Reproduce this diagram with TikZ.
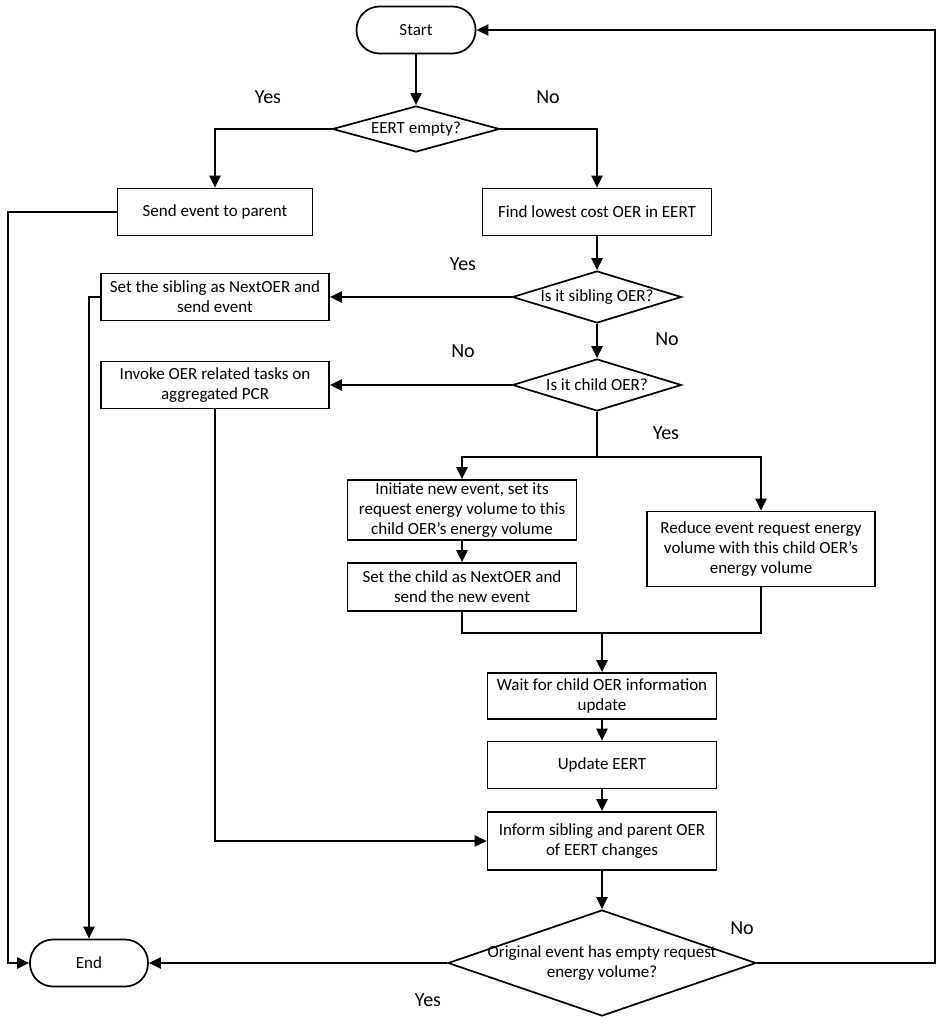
\documentclass[tikz,border=0pt]{standalone}
\usepackage{fontspec}
\setmainfont{Carlito}
\usetikzlibrary{shapes.geometric,arrows.meta}
\begin{document}
\begin{tikzpicture}[x=1pt,y=-1pt,
  font=\fontsize{17}{20}\selectfont,
  box/.style 2 args={draw, line width=1.7pt, align=center, inner sep=0pt, minimum width=#1, minimum height=#2},
  term/.style 2 args={draw, line width=1.7pt, rounded corners=23pt, inner sep=0pt, minimum width=#1, minimum height=#2},
  dia/.style 2 args={draw, diamond, line width=1.7pt, inner sep=0pt, minimum width=#1, minimum height=#2},
  lbl/.style={align=center, inner sep=0pt},
  con/.style={line width=2.1pt},
  arr/.style={line width=2.1pt, -{Triangle[length=12pt,width=11pt]}},
  ans/.style={font=\fontsize{20}{24}\selectfont, inner sep=0pt}
]
\useasboundingbox (0,0) rectangle (941,1024);

% nodes
\node[term={119}{47}] (start) at (416,30) {Start};
\node[dia={167}{46}] (d1) at (416,129) {};
\node[lbl] (d1t) at (d1.center) {EERT empty?};
\node[box={195}{47}] (send) at (215,212) {Send event to parent};
\node[box={229}{47}] (find) at (597,212) {Find lowest cost OER in EERT};
\node[dia={169}{52}] (d2) at (597,297) {};
\node[lbl] (d2t) at (d2.center) {Is it sibling OER?};
\node[box={228}{47}] (sib) at (215,297) {Set the sibling as NextOER and\\send event};
\node[dia={169}{52}] (d3) at (597,385) {};
\node[lbl] (d3t) at (d3.center) {Is it child OER?};
\node[box={228}{47}] (inv) at (215,385) {Invoke OER related tasks on\\aggregated PCR};
\node[box={229}{60}] (init) at (462,510) {Initiate new event, set its\\request energy volume to this\\child OER’s energy volume};
\node[box={229}{48}] (setc) at (462,587) {Set the child as NextOER and\\send the new event};
\node[box={228}{75}] (red) at (761,549) {Reduce event request energy\\volume with this child OER’s\\energy volume};
\node[box={229}{46}] (wait) at (602,696) {Wait for child OER information\\update};
\node[box={229}{47}] (upd) at (602,765) {Update EERT};
\node[box={229}{58}] (inf) at (602,841) {Inform sibling and parent OER\\of EERT changes};
\node[dia={308}{106}] (d4) at (602,963) {};
\node[lbl] (d4t) at (d4.center) {Original event has empty request\\energy volume?};
\node[term={118}{47}] (end) at (89,963) {End};

% answer labels
\node[ans] (y1) at (268,97) {Yes};
\node[ans] (n1) at (548,97) {No};
\node[ans] (y2) at (463,264) {Yes};
\node[ans] (n2) at (667,339) {No};
\node[ans] (n3) at (463,351) {No};
\node[ans] (y3) at (666,433) {Yes};
\node[ans] (n4) at (742,928) {No};
\node[ans] (y4) at (428,1000) {Yes};

% helper coordinates
\coordinate (j1) at (597,457);
\coordinate (j2) at (602,633);
\coordinate (rx) at (935,963);
\coordinate (lx) at (8,212);

% connectors
\draw[arr] (start.south) -- (d1.north);
\draw[arr] (d1.west) -| (send.north);
\draw[arr] (d1.east) -| (find.north);
\draw[arr] (find.south) -- (d2.north);
\draw[arr] (d2.west) -- (sib.east);
\draw[arr] (d2.south) -- (d3.north);
\draw[arr] (d3.west) -- (inv.east);
\draw[con] (d3.south) -- (j1);
\draw[arr] (j1) -| (init.north);
\draw[arr] (j1) -| (red.north);
\draw[arr] (init.south) -- (setc.north);
\draw[con] (setc.south) |- (j2);
\draw[con] (red.south) |- (j2);
\draw[arr] (j2) -- (wait.north);
\draw[arr] (wait.south) -- (upd.north);
\draw[arr] (upd.south) -- (inf.north);
\draw[arr] (inf.south) -- (d4.north);
\draw[arr] (inv.south) |- (inf.west);
\draw[arr] (d4.west) -- (end.east);
\draw[arr] (d4.east) -- (rx) |- (start.east);
\draw[arr] (send.west) -- (lx) |- (end.west);
\draw[arr] (sib.west) -| (end.north);
\end{tikzpicture}
\end{document}
